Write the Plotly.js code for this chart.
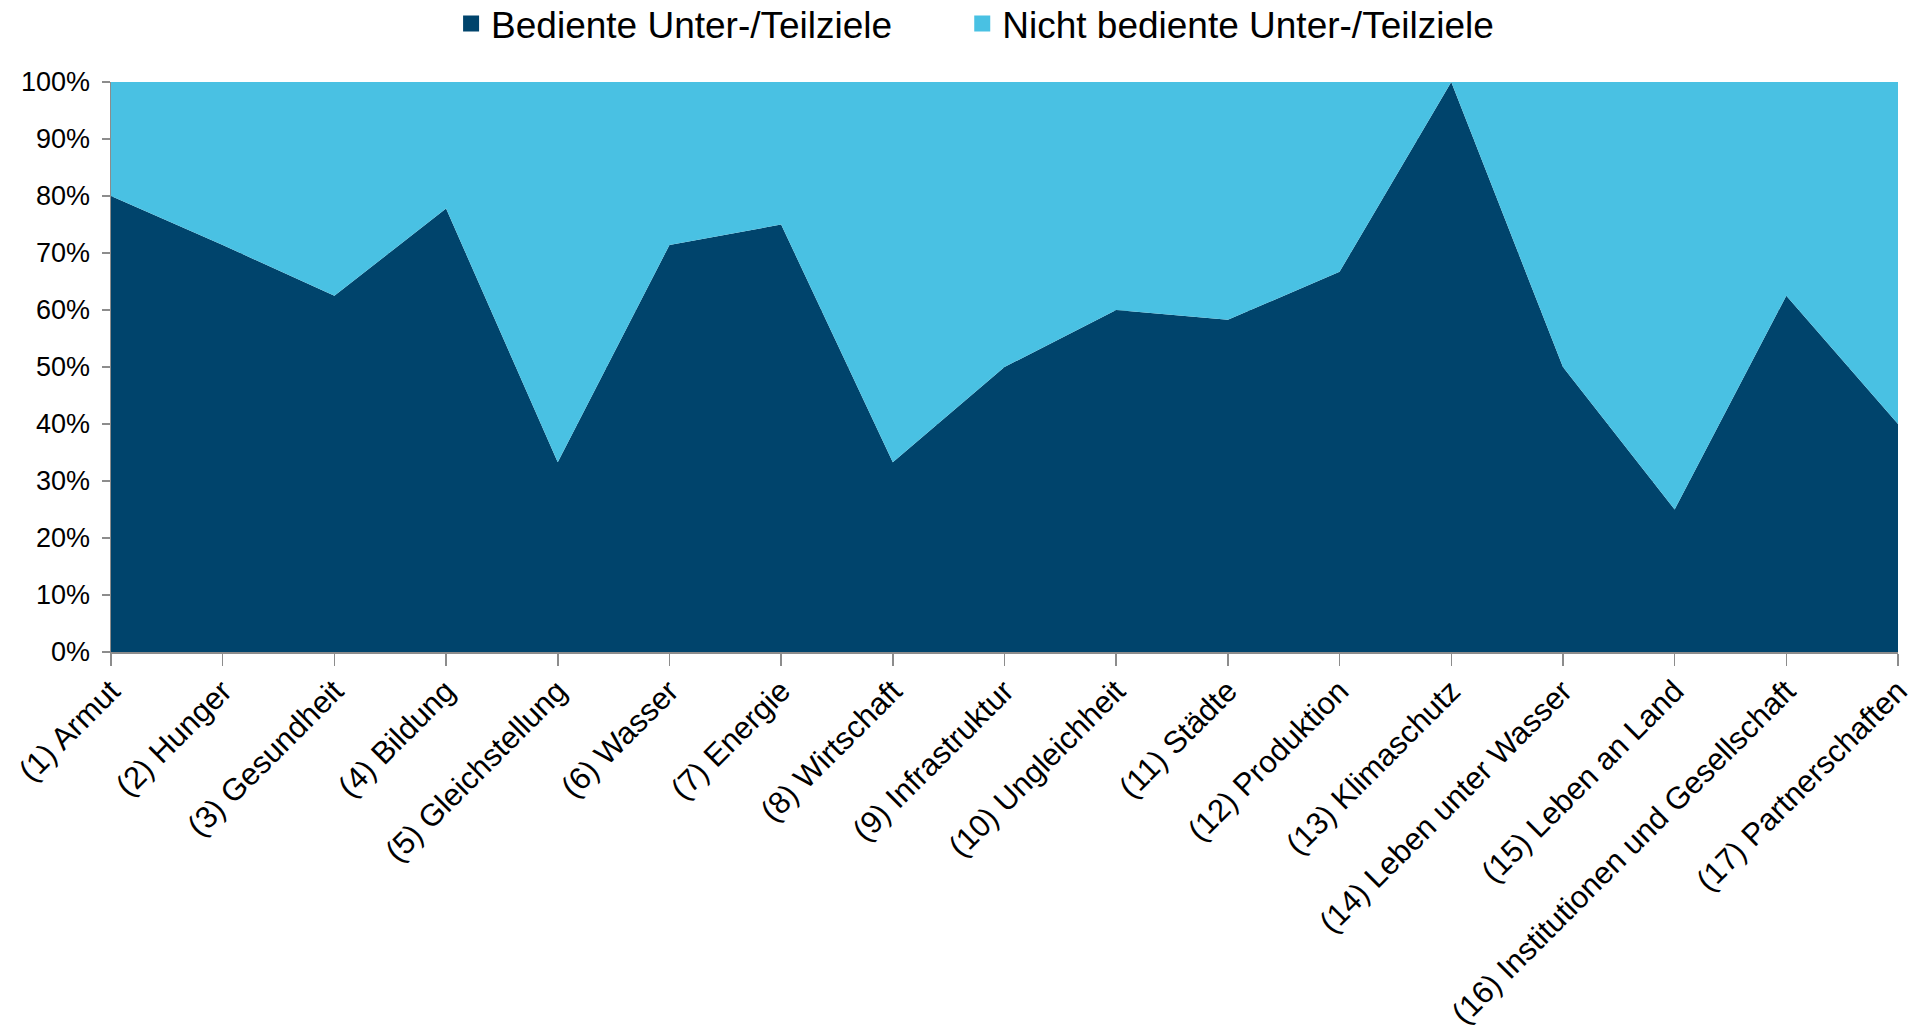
<!DOCTYPE html>
<html>
<head>
<meta charset="utf-8">
<script src="https://cdn.plot.ly/plotly-3.0.1.min.js"></script>
<style>html,body{margin:0;padding:0;background:#fff;}#chart{width:1913px;height:1036px;}</style>
</head>
<body>
<div id="chart"></div>
<script>
const categories = ["(1) Armut","(2) Hunger","(3) Gesundheit","(4) Bildung","(5) Gleichstellung","(6) Wasser","(7) Energie","(8) Wirtschaft","(9) Infrastruktur","(10) Ungleichheit","(11) Städte","(12) Produktion","(13) Klimaschutz","(14) Leben unter Wasser","(15) Leben an Land","(16) Institutionen und Gesellschaft","(17) Partnerschaften"];
const served = [80, 71.4, 62.5, 77.8, 33.3, 71.4, 75, 33.3, 50, 60, 58.3, 66.7, 100, 50, 25, 62.5, 40];
const notServed = [20, 28.6, 37.5, 22.2, 66.7, 28.6, 25, 66.7, 50, 40, 41.7, 33.3, 0, 50, 75, 37.5, 60];
const seriesNames = ["Bediente Unter-/Teilziele", "Nicht bediente Unter-/Teilziele"];
const yTicks = [0,10,20,30,40,50,60,70,80,90,100];
const yTickLabels = ["0%","10%","20%","30%","40%","50%","60%","70%","80%","90%","100%"];

const dark = "#00446C";
const light = "#49C1E3";
const axisGrey = "#8C8C8C";

const traces = [
  {x: categories, y: served, type: "scatter", mode: "none", stackgroup: "one", fill: "tozeroy", fillcolor: dark, line: {width: 0}, showlegend: false, hoverinfo: "x+y"},
  {x: categories, y: notServed, type: "scatter", mode: "none", stackgroup: "one", fill: "tonexty", fillcolor: light, line: {width: 0}, showlegend: false, hoverinfo: "x+y"},
  {x: [null], y: [null], type: "scatter", mode: "markers", name: seriesNames[0], legend: "legend", marker: {symbol: "square", size: 21, color: dark}},
  {x: [null], y: [null], type: "scatter", mode: "markers", name: seriesNames[1], legend: "legend2", marker: {symbol: "square", size: 21, color: light}}
];

const legendBase = {orientation: "h", xanchor: "left", xref: "container", y: 0.977, yanchor: "middle", yref: "container",
                    font: {size: 37, color: "#000"}, itemwidth: 30, bgcolor: "rgba(0,0,0,0)"};

const layout = {
  width: 1913, height: 1036,
  margin: {l: 111, r: 15, t: 82, b: 384},
  paper_bgcolor: "#fff", plot_bgcolor: "#fff",
  font: {family: "Liberation Sans, Arial, sans-serif", color: "#000"},
  showlegend: true,
  legend: Object.assign({}, legendBase, {x: 0.2358}),
  legend2: Object.assign({}, legendBase, {x: 0.503}),
  xaxis: {type: "category", range: [0, categories.length - 1], showgrid: false, zeroline: false,
          showline: true, linecolor: axisGrey, linewidth: 1.5,
          ticks: "outside", ticklen: 12, tickcolor: axisGrey, tickwidth: 1.5, ticklabelstandoff: -5,
          tickangle: -45, tickfont: {size: 31, color: "#000"}, automargin: false},
  yaxis: {range: [0, 100], tickmode: "array", tickvals: yTicks, ticktext: yTickLabels, showgrid: true, gridcolor: axisGrey, gridwidth: 1,
          zeroline: false, showline: true, linecolor: axisGrey, linewidth: 1.5,
          ticks: "outside", ticklen: 8, tickcolor: axisGrey, tickwidth: 1.5, ticklabelstandoff: 6,
          tickfont: {size: 27, color: "#000"}, automargin: false}
};

Plotly.newPlot("chart", traces, layout, {displayModeBar: false, staticPlot: true});
</script>
</body>
</html>
